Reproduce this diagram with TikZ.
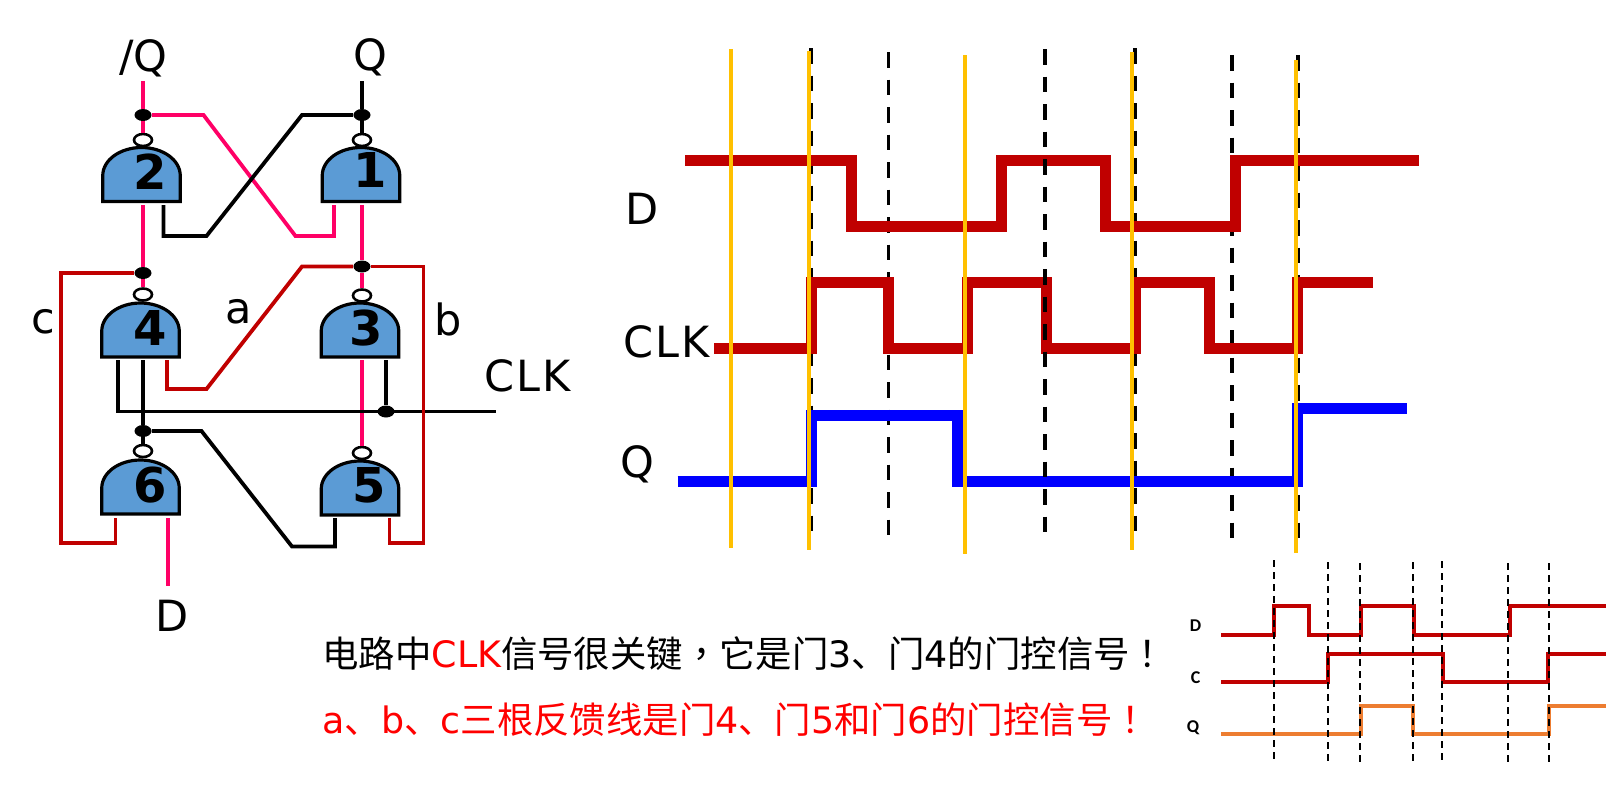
\documentclass[tikz,border=0pt]{standalone}
\usepackage{fontspec}
\setmainfont{DejaVu Sans}
\newfontfamily\cjk{Noto Sans CJK SC}
\newfontfamily\cjktc{Noto Sans CJK TC}
\newfontfamily\smallfont{Carlito}
\usetikzlibrary{shapes.geometric}
\definecolor{gateblue}{HTML}{5B9BD5}
\definecolor{wirepink}{HTML}{FF0066}
\definecolor{wirered}{HTML}{C00000}
\definecolor{markorange}{HTML}{FFC000}
\definecolor{qorange}{HTML}{ED7D31}
\tikzset{
    gate/.style={rectangle, minimum width=38.75pt, minimum height=27pt, inner sep=0pt, outer sep=0pt,
        append after command={\pgfextra{\draw[draw=black, fill=gateblue, line width=1.6pt, line join=miter]
            (\tikzlastnode.south west) -- (\tikzlastnode.south east) -- ++(0,13pt)
            arc[start angle=0, end angle=180, x radius=19.375pt, y radius=14pt] -- cycle;}}},
    gatenum/.style={font=\fontsize{24}{24}\selectfont\bfseries, inner sep=0pt},
    bubble/.style={ellipse, draw, fill=white, line width=1.3pt, minimum width=9pt, minimum height=6pt, inner sep=0pt},
    dot/.style={ellipse, fill=black, minimum width=8.5pt, minimum height=6pt, inner sep=0pt},
    lbl/.style={font=\fontsize{21.5}{21.5}\selectfont, inner sep=0pt},
    msg/.style={font=\fontsize{18.2}{18.2}\selectfont, inner sep=0pt, anchor=west},
    tiny lbl/.style={font=\smallfont\bfseries\fontsize{9}{9}\selectfont, inner sep=0pt},
    pinkw/.style={draw=wirepink, line width=1.9pt},
    blackw/.style={draw=black, line width=1.9pt},
    redw/.style={draw=wirered, line width=1.9pt},
    cutline/.style={draw=black, line width=1.85pt, dash pattern=on 7.75pt off 6pt},
    orangeline/.style={draw=markorange, line width=2pt},
    sig/.style={line width=5.5pt},
    cutsmall/.style={draw=black, line width=1pt, dash pattern=on 3.5pt off 2.5pt},
    sigsmall/.style={line width=2pt},
}
\begin{document}
\begin{tikzpicture}[x=0.5pt, y=-0.5pt]
    \path[use as bounding box] (0,0) rectangle (1622,784);
    % gates
    \node[gate] (g2) at (141.5,174.5) {};
    \node[gate] (g1) at (361,174.5) {};
    \node[gate] (g4) at (140.5,330) {};
    \node[gate] (g3) at (360,330) {};
    \node[gate] (g6) at (140.5,487) {};
    \node[gate] (g5) at (360,488) {};
    \node[gatenum] (n2) at (150,172) {2};
    \node[gatenum] (n1) at (370,170) {1};
    \node[gatenum] (n4) at (150.5,328) {4};
    \node[gatenum] (n3) at (366.5,328) {3};
    \node[gatenum] (n6) at (150.5,485) {6};
    \node[gatenum] (n5) at (369.5,485) {5};
    \node[bubble] (b2) at (143,140) {};
    \node[bubble] (b1) at (362,140) {};
    \node[bubble] (b4) at (143,294.5) {};
    \node[bubble] (b3) at (362,295.5) {};
    \node[bubble] (b6) at (143,451) {};
    \node[bubble] (b5) at (362,453) {};
    \node[dot] (j2) at (143,115) {};
    \node[dot] (j1) at (362,115) {};
    \node[dot] (j4) at (143,273) {};
    \node[dot] (j3) at (362,266.5) {};
    \node[dot] (j6) at (143,431) {};
    \node[dot] (jclk) at (386,411.5) {};
    % free ends
    \coordinate (qbar) at (143,81);
    \coordinate (qout) at (362,81);
    \coordinate (clkin) at (496,411.5);
    \coordinate (din) at (168,586);
    % texts
    \node[lbl] (tqbar) at (143.5,58) {/Q};
    \node[lbl] (tq) at (370,57) {Q};
    \node[lbl] (tc) at (43,322) {c};
    \node[lbl] (ta) at (239,312) {a};
    \node[lbl] (tb) at (448,319) {b};
    \node[lbl] (tclk) at (528,376) {\addfontfeature{LetterSpace=5}CLK};
    \node[lbl] (td) at (172,616) {D};
    % cross coupled pair
    \draw[pinkw] (qbar) -- (j2);
    \draw[pinkw] (j2) -- (b2);
    \draw[pinkw] (j2) -- (203.5,115) -- (295.5,236) -- (334,236) -- (334,205);
    \draw[pinkw] (143,205) -- (j4);
    \draw[pinkw] (j4) -- (b4);
    \draw[pinkw] (362,205) -- (j3);
    \draw[pinkw] (j3) -- (b3);
    \draw[pinkw] (362,360) -- (b5);
    \draw[pinkw] (168,518) -- (din);
    \draw[blackw] (qout) -- (j1);
    \draw[blackw] (j1) -- (b1);
    \draw[blackw] (j1) -- (302,115) -- (206.5,236) -- (163.5,236) -- (163.5,205);
    % clock and the rest
    \draw[blackw] (118,360) -- (118,411.5) -- (clkin);
    \draw[blackw] (386,360) -- (jclk);
    \draw[blackw] (143,360) -- (j6);
    \draw[blackw] (j6) -- (b6);
    \draw[blackw] (j6) -- (201.5,431) -- (292,546.5) -- (335,546.5) -- (335,518);
    % feedback
    \draw[redw] (j4) -- (61,273) -- (61,543) -- (115.5,543) -- (115.5,518);
    \draw[redw] (j3) -- (302,266.5) -- (206.5,389) -- (167,389) -- (167,360);
    \draw[redw] (j3) -- (423.5,266.5) -- (423.5,543) -- (389.5,543) -- (389.5,518);
    % large timing chart
    \node[lbl] (td1) at (642,209) {D};
    \node[lbl] (tclk1) at (667,341.5) {\addfontfeature{LetterSpace=5}CLK};
    \node[lbl] (tq1) at (637,464) {Q};
    \foreach \xa/\ya/\yb in {811/48/540, 888.5/52/543, 1135/48/540, 1232/55/546, 1298/55/543}
        \draw[cutline] (\xa,\ya) -- (\xa,\yb);
    \draw[sig, wirered] (685,160) -- (851.5,160) -- (851.5,226.5) -- (1001.5,226.5) -- (1001.5,160) -- (1105,160) -- (1105,226.5) -- (1235.5,226.5) -- (1235.5,160) -- (1419,160);
    \draw[sig, wirered] (714,348.5) -- (811,348.5) -- (811,282) -- (888,282) -- (888,348.5) -- (967.5,348.5) -- (967.5,282) -- (1046,282) -- (1046,348.5) -- (1135,348.5) -- (1135,282) -- (1209,282) -- (1209,348.5) -- (1297,348.5) -- (1297,282) -- (1373,282);
    \draw[sig, blue] (677.5,481.5) -- (811,481.5) -- (811,415) -- (957.5,415) -- (957.5,481.5) -- (1297,481.5) -- (1297,408) -- (1406.5,408);
    \draw[cutline] (1045,49) -- (1045,541);
    \foreach \xa/\ya/\yb in {730.5/49/548, 808.5/51/550, 964.5/55/554, 1132/52/550, 1296/60/553}
        \draw[orangeline] (\xa,\ya) -- (\xa,\yb);
    % messages
    \node[msg] (msga) at (322,654) {{\cjk 电路中}\textcolor{red}{CLK}{\cjk 信号很关键}{\cjktc ，}{\cjk 它是门}3{\cjk 、门}4{\cjk 的门控信号}{\cjktc ！}};
    \node[msg, text=red] (msgb) at (322,719.5) {a{\cjk 、}b{\cjk 、}c{\cjk 三根反馈线是门}4{\cjk 、门}5{\cjk 和门}6{\cjk 的门控信号}{\cjktc ！}};
    % small timing chart
    \node[tiny lbl] (tds) at (1195.5,625.5) {D};
    \node[tiny lbl] (tcs) at (1195.5,677.5) {C};
    \node[tiny lbl] (tqs) at (1193,728) {Q};
    \draw[sigsmall, wirered] (1221,634.5) -- (1273.5,634.5) -- (1273.5,606) -- (1309,606) -- (1309,634.5) -- (1361,634.5) -- (1361,606) -- (1414,606) -- (1414,634.5) -- (1510,634.5) -- (1510,606) -- (1606,606);
    \draw[sigsmall, wirered] (1221,682) -- (1327.5,682) -- (1327.5,653.5) -- (1442.5,653.5) -- (1442.5,682) -- (1548,682) -- (1548,653.5) -- (1606,653.5);
    \draw[sigsmall, qorange] (1221,733.5) -- (1360.5,733.5) -- (1360.5,706) -- (1413,706) -- (1413,733.5) -- (1549,733.5) -- (1549,706) -- (1606,706);
    \foreach \xa/\ya/\yb in {1273.5/560/762, 1327.5/562/763, 1360/563/765, 1413/562/763, 1442/561/762, 1508/563/765, 1549/563/765}
        \draw[cutsmall] (\xa,\ya) -- (\xa,\yb);
\end{tikzpicture}
\end{document}
